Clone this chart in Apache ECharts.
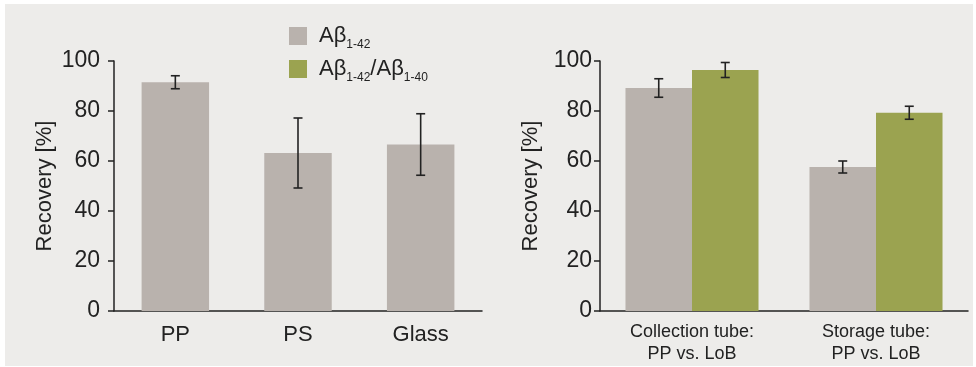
<!DOCTYPE html>
<html>
<head>
<meta charset="utf-8">
<script src="https://cdn.jsdelivr.net/npm/echarts@6/dist/echarts.min.js"></script>
<style>
html,body{margin:0;padding:0;background:#fff;}
#chart{width:976px;height:367px;}
</style>
</head>
<body>
<div id="chart"></div>
<script>
// ---- data ----
const leftCats = ['PP', 'PS', 'Glass'];
const leftVals = [91.5, 63.2, 66.6];
const leftErr = [2.6, 14.0, 12.3];

const rightCats = ['Collection tube:\nPP vs. LoB', 'Storage tube:\nPP vs. LoB'];
const ab42Vals = [89.2, 57.6];
const ab42Err = [3.7, 2.4];
const ratioVals = [96.4, 79.3];
const ratioErr = [3.0, 2.6];

const yTicks = [0, 20, 40, 60, 80, 100];
const seriesNames = ['Aβ1-42', 'Aβ1-42/Aβ1-40'];

// ---- styles ----
const GRAY = '#b9b2ad';
const GREEN = '#9ba350';
const INK = '#222222';
const FONT = 'Liberation Sans';

const chart = echarts.init(document.getElementById('chart'));

function errData(vals, errs) {
  return vals.map((v, i) => [i, v - errs[i], v + errs[i]]);
}

// offsetFrac: offset of bar centre as fraction of band width
function errSeries(xi, vals, errs, offsetFrac) {
  return {
    type: 'custom',
    xAxisIndex: xi, yAxisIndex: xi,
    z: 10,
    silent: true,
    data: errData(vals, errs),
    renderItem: function (params, api) {
      const band = api.size([1, 0])[0];
      const lo = api.coord([api.value(0), api.value(1)]);
      const hi = api.coord([api.value(0), api.value(2)]);
      const x = lo[0] + band * offsetFrac;
      const cap = 4.5;
      const st = { stroke: INK, lineWidth: 1.6 };
      return {
        type: 'group',
        children: [
          { type: 'line', shape: { x1: x, y1: lo[1], x2: x, y2: hi[1] }, style: st },
          { type: 'line', shape: { x1: x - cap, y1: lo[1], x2: x + cap, y2: lo[1] }, style: st },
          { type: 'line', shape: { x1: x - cap, y1: hi[1], x2: x + cap, y2: hi[1] }, style: st }
        ]
      };
    }
  };
}

function yAxis(gi, margin) {
  return {
    type: 'value', gridIndex: gi, min: 0, max: 100, interval: 20,
    name: 'Recovery [%]', nameLocation: 'middle', nameGap: 58,
    nameTextStyle: { fontFamily: FONT, fontSize: 22, color: INK },
    axisLine: { show: true, lineStyle: { color: INK, width: 1.5 } },
    axisTick: { show: true, length: 6, lineStyle: { color: INK, width: 1.5 } },
    axisLabel: { fontFamily: FONT, fontSize: 23, color: INK, margin: margin,
      formatter: v => (yTicks.indexOf(v) >= 0 ? String(v) : '') },
    splitLine: { show: false }
  };
}

const rightGapFrac = 0.277;
const rightBarFrac = (1 - rightGapFrac) / 2;

const option = {
  backgroundColor: '#ffffff',
  animation: false,
  graphic: [{
    type: 'rect', z: -10, silent: true,
    shape: { x: 5, y: 4, width: 968, height: 362 },
    style: { fill: '#edecea' }
  }],
  legend: {
    orient: 'vertical', left: 284, top: 20,
    itemWidth: 18, itemHeight: 18, itemGap: 7,
    icon: 'rect',
    data: seriesNames,
    formatter: function (name) {
      return name === seriesNames[0]
        ? '{f|Aβ}{s|1-42}'
        : '{f|Aβ}{s|1-42}{a|/Aβ}{s|1-40}';
    },
    textStyle: {
      color: INK,
      rich: {
        f: { fontFamily: FONT, fontSize: 22, lineHeight: 30, color: INK, padding: [0, 0, 0, 7] },
        a: { fontFamily: FONT, fontSize: 22, lineHeight: 30, color: INK },
        s: { fontFamily: FONT, fontSize: 12, lineHeight: 10, color: INK, verticalAlign: 'bottom' }
      }
    }
  },
  grid: [
    { left: 114, right: 494, top: 61, bottom: 56 },
    { left: 600, right: 8, top: 61, bottom: 56 }
  ],
  xAxis: [
    {
      type: 'category', gridIndex: 0, data: leftCats,
      axisLine: { lineStyle: { color: INK, width: 1.5 } },
      axisTick: { show: false },
      axisLabel: { fontFamily: FONT, fontSize: 22, color: INK, margin: 13 }
    },
    {
      type: 'category', gridIndex: 1, data: rightCats,
      axisLine: { lineStyle: { color: INK, width: 1.5 } },
      axisTick: { show: false },
      axisLabel: { fontFamily: FONT, fontSize: 18, lineHeight: 22, color: INK, margin: 10 }
    }
  ],
  yAxis: [yAxis(0, 14), yAxis(1, 8)],
  series: [
    {
      name: seriesNames[0], type: 'bar', xAxisIndex: 0, yAxisIndex: 0,
      data: leftVals, barCategoryGap: '45%', itemStyle: { color: GRAY }
    },
    {
      name: seriesNames[0], type: 'bar', xAxisIndex: 1, yAxisIndex: 1,
      data: ab42Vals, barCategoryGap: (rightGapFrac * 100) + '%', barGap: '0%', itemStyle: { color: GRAY }
    },
    {
      name: seriesNames[1], type: 'bar', xAxisIndex: 1, yAxisIndex: 1,
      data: ratioVals, barCategoryGap: (rightGapFrac * 100) + '%', barGap: '0%', itemStyle: { color: GREEN }
    },
    errSeries(0, leftVals, leftErr, 0),
    errSeries(1, ab42Vals, ab42Err, -rightBarFrac / 2),
    errSeries(1, ratioVals, ratioErr, rightBarFrac / 2)
  ]
};
chart.setOption(option);
</script>
</body>
</html>
